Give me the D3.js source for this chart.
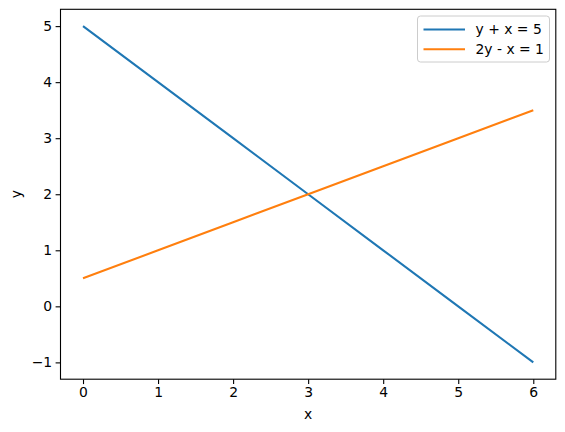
<!DOCTYPE html>
<html>
<head>
<meta charset="utf-8">
<script src="https://cdn.jsdelivr.net/npm/d3@7"></script>
<style>
  body { margin: 0; background: #fff; }
  text { font-family: "DejaVu Sans", sans-serif; }
</style>
</head>
<body>
<script>
// line data
var xs = [0, 1, 2, 3, 4, 5, 6];
var line1 = [5, 4, 3, 2, 1, 0, -1];          // y + x = 5
var line2 = [0.5, 1, 1.5, 2, 2.5, 3, 3.5];   // 2y - x = 1
var seriesNames = ["y + x = 5", "2y - x = 1"];
var colors = ["#1f77b4", "#ff7f0e"];
var xTicks = [0, 1, 2, 3, 4, 5, 6];
var yTicks = [-1, 0, 1, 2, 3, 4, 5];

var W = 565, H = 432;
var plot = {left: 60.5, right: 555.8, top: 9.3, bottom: 379.2};

var svg = d3.select("body").append("svg")
    .attr("width", W)
    .attr("height", H);

var x = d3.scaleLinear().domain([-0.3, 6.3]).range([plot.left, plot.right]);
var y = d3.scaleLinear().domain([-1.3, 5.3]).range([plot.bottom, plot.top]);

var fmt = function(d) { return d < 0 ? "\u2212" + Math.abs(d) : d; };
var xAxis = d3.axisBottom(x).tickValues(xTicks).tickSize(4.9).tickPadding(3.5).tickFormat(fmt);
var yAxis = d3.axisLeft(y).tickValues(yTicks).tickSize(4.9).tickPadding(3.5).tickFormat(fmt);

var gx = svg.append("g")
    .attr("transform", "translate(0," + plot.bottom + ")")
    .call(xAxis);
var gy = svg.append("g")
    .attr("transform", "translate(" + plot.left + ",0)")
    .call(yAxis);

[gx, gy].forEach(function(g) {
  g.select(".domain").remove();
  g.selectAll(".tick line").attr("stroke", "#000").attr("stroke-width", 1.1);
  g.selectAll(".tick text").attr("fill", "#000").style("font-size", "13.9px")
    .style("font-family", "'DejaVu Sans', sans-serif");
});

var lineGen = d3.line()
    .x(function(d, i) { return x(xs[i]); })
    .y(function(d) { return y(d); });

[line1, line2].forEach(function(s, i) {
  svg.append("path")
      .datum(s)
      .attr("fill", "none")
      .attr("stroke", colors[i])
      .attr("stroke-width", 2.08)
      .attr("d", lineGen);
});

// frame
svg.append("rect")
    .attr("x", plot.left).attr("y", plot.top)
    .attr("width", plot.right - plot.left).attr("height", plot.bottom - plot.top)
    .attr("fill", "none").attr("stroke", "#000").attr("stroke-width", 1.1);

// axis labels
svg.append("text")
    .attr("x", (plot.left + plot.right) / 2).attr("y", 419)
    .attr("text-anchor", "middle")
    .style("font-size", "13.9px")
    .text("x");
svg.append("text")
    .attr("transform", "translate(20.5," + (plot.top + plot.bottom) / 2 + ") rotate(-90)")
    .attr("text-anchor", "middle")
    .style("font-size", "13.9px")
    .text("y");

// legend
var lg = svg.append("g");
lg.append("rect")
    .attr("x", 417.5).attr("y", 16)
    .attr("width", 132).attr("height", 46)
    .attr("rx", 3)
    .attr("fill", "#fff").attr("fill-opacity", 0.8)
    .attr("stroke", "#ccc").attr("stroke-width", 1);
seriesNames.forEach(function(name, i) {
  var yy = 29.5 + i * 19.7;
  lg.append("line")
      .attr("x1", 423.5).attr("x2", 465)
      .attr("y1", yy).attr("y2", yy)
      .attr("stroke", colors[i]).attr("stroke-width", 2.08);
  lg.append("text")
      .attr("x", 475.5).attr("y", yy + 4.9)
      .style("font-size", "13.9px")
      .text(name);
});
</script>
</body>
</html>
